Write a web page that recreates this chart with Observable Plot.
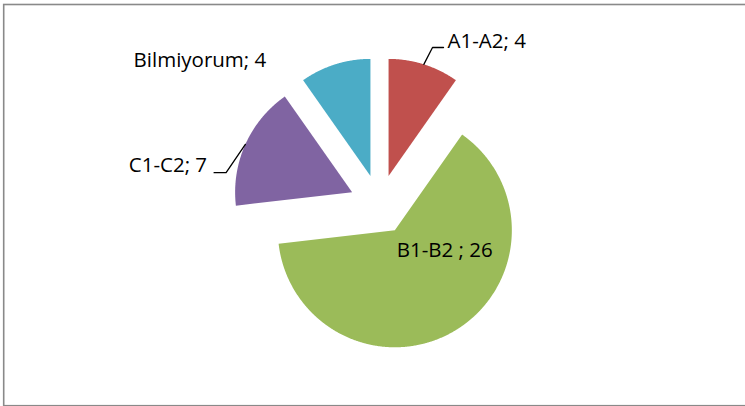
<!DOCTYPE html>
<html><head><meta charset="utf-8">
<script src="https://cdn.jsdelivr.net/npm/d3@7"></script>
<script src="https://cdn.jsdelivr.net/npm/@observablehq/plot@0.6"></script>
<style>html,body{margin:0;padding:0;background:#fff}#chart svg{display:block}</style>
</head><body><div id="chart"></div>
<script>
// ---- data ----
const categories = ["A1-A2", "B1-B2", "C1-C2", "Bilmiyorum"];
const values = [4, 26, 7, 4];
const labels = ["A1-A2; 4", "B1-B2 ; 26", "C1-C2; 7", "Bilmiyorum; 4"];
const colors = ["#C0504D", "#9BBB59", "#8064A2", "#4BACC6"];

// ---- layout (not data) ----
const W = 745, H = 406, cx = 379, cy = 204, R = 117;
const explode = 30 / R;
// label placement relative to each exploded slice centre (angle in degrees clockwise from top, dist in radii)
const labelLayout = [
  {angle: 18.9, dist: 1.16, leader: true, hx: 11, tx: 15, ty: -6, anchor: "start"},
  {angle: 111.9, dist: 0.46, leader: false, hx: 0, tx: 0, ty: 0, anchor: "middle"},
  {angle: 278.8, dist: 1.09, leader: true, hx: -12, tx: -19, ty: -7, anchor: "end"},
  {angle: 304.1, dist: 1.76, leader: false, hx: 0, tx: 0, ty: 0, anchor: "middle"}
];
const rad = d => d * Math.PI / 180;

const arcs = d3.pie().sort(null).value(d => d)(values);
const slicePts = [], leaderPts = [], textPts = [];
arcs.forEach((a, i) => {
  const mid = (a.startAngle + a.endAngle) / 2;
  const ox = explode * Math.sin(mid), oy = explode * Math.cos(mid);
  const name = categories[i];
  slicePts.push({name, x: ox, y: oy});
  const n = Math.max(4, Math.ceil((a.endAngle - a.startAngle) / 0.005));
  for (let k = 0; k <= n; k++) {
    const t = a.startAngle + (a.endAngle - a.startAngle) * k / n;
    slicePts.push({name, x: ox + Math.sin(t), y: oy + Math.cos(t)});
  }
  const L = labelLayout[i];
  const ex = ox + L.dist * Math.sin(rad(L.angle)), ey = oy + L.dist * Math.cos(rad(L.angle));
  if (L.leader) {
    leaderPts.push({name, x: ox + Math.sin(mid), y: oy + Math.cos(mid)});
    leaderPts.push({name, x: ex, y: ey});
    leaderPts.push({name, x: ex + L.hx / R, y: ey});
  }
  textPts.push({label: labels[i], anchor: L.anchor, x: ex + L.tx / R, y: ey - L.ty / R});
});

const font = {fontFamily: "Open Sans", fontSize: 20.5, fill: "#000"};
const chart = Plot.plot({
  width: W, height: H, margin: 0,
  x: {domain: [-cx / R, (W - cx) / R], axis: null},
  y: {domain: [-(H - cy) / R, cy / R], axis: null},
  color: {domain: categories, range: colors},
  marks: [
    Plot.frame({stroke: "#898989", strokeWidth: 1.6, insetLeft: 3.2, insetTop: 4, insetBottom: 0.8, insetRight: -6}),
    Plot.line(slicePts, {x: "x", y: "y", z: "name", fill: "name", stroke: null, curve: "linear-closed"}),
    Plot.line(leaderPts, {x: "x", y: "y", z: "name", stroke: "#000", strokeWidth: 1.3}),
    ...["start", "middle", "end"].map(anc =>
      Plot.text(textPts.filter(d => d.anchor === anc), {x: "x", y: "y", text: "label", textAnchor: anc, ...font}))
  ]
});
document.getElementById("chart").append(chart);
</script>
</body></html>
